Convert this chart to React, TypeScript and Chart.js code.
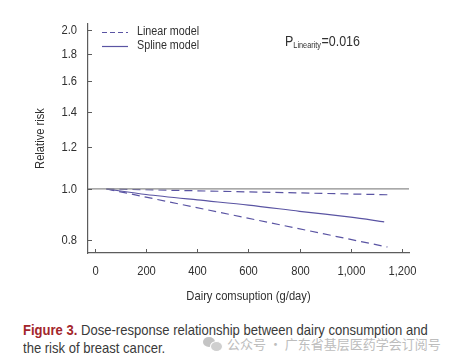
import React, { useEffect, useRef } from "react";
import { Chart, registerables } from "chart.js";

Chart.register(...registerables);

const FONT = "'Liberation Sans', Arial, sans-serif";
const SX = 0.86;

const xTicks = [0, 200, 400, 600, 800, 1000, 1200];
const yTicks = [0.8, 1.0, 1.2, 1.4, 1.6, 1.8, 2.0];

const refX = [-27, 1228];
const refY = [1.0, 1.0];

const linearX = [45, 1144];
const linearUpper = [1.0, 0.975];
const linearLower = [1.0, 0.776];

const splineX = [45, 200, 400, 600, 800, 1000, 1131];
const splineY = [1.0, 0.976, 0.953, 0.932, 0.907, 0.884, 0.866];

const legendLabels = ["Linear model", "Spline model"];
const xTitle = "Dairy comsuption (g/day)";
const yTitle = "Relative risk";
const pValueText = "0.016";

const LINE = "#5a54a3";
const AXIS = "#5c5c5c";
const TEXT = "#303030";

const pts = (xs: number[], ys: number[]) => xs.map((x, i) => ({ x, y: ys[i] }));

function txt(
  ctx: CanvasRenderingContext2D,
  s: string,
  x: number,
  y: number,
  size: number,
  align: CanvasTextAlign,
  baseline: CanvasTextBaseline,
  rot = 0
) {
  ctx.save();
  ctx.translate(x, y);
  if (rot) ctx.rotate(rot);
  ctx.scale(SX, 1);
  ctx.font = `${size}px ${FONT}`;
  ctx.textAlign = align;
  ctx.textBaseline = baseline;
  ctx.fillText(s, 0, 0);
  const w = ctx.measureText(s).width * SX;
  ctx.restore();
  return w;
}

const overlay = {
  id: "overlay",
  afterDraw(chart: any) {
    const ctx: CanvasRenderingContext2D = chart.ctx;
    const xs = chart.scales.x;
    const ys = chart.scales.y;
    const { left, right, top, bottom } = chart.chartArea;
    ctx.save();
    ctx.strokeStyle = AXIS;
    ctx.lineWidth = 1;
    ctx.fillStyle = TEXT;
    xTicks.forEach((v) => {
      const px = Math.round(xs.getPixelForValue(v)) + 0.5;
      ctx.beginPath();
      ctx.moveTo(px, bottom);
      ctx.lineTo(px, bottom - 4);
      ctx.stroke();
      txt(ctx, v.toLocaleString("en-US"), px, bottom + 18, 13, "center", "middle");
    });
    yTicks.forEach((v) => {
      const py = Math.round(ys.getPixelForValue(v)) + 0.5;
      ctx.beginPath();
      ctx.moveTo(left, py);
      ctx.lineTo(left + 4, py);
      ctx.stroke();
      txt(ctx, v.toFixed(1), left - 11, py, 13, "right", "middle");
    });

    // axis titles
    txt(ctx, xTitle, (left + right) / 2, bottom + 43, 13, "center", "middle");
    txt(ctx, yTitle, left - 48, (top + bottom) / 2, 13, "center", "middle", -Math.PI / 2);

    // legend
    const lx = left + 14;
    ctx.strokeStyle = LINE;
    ctx.lineWidth = 1.2;
    ctx.setLineDash([5, 3]);
    ctx.beginPath();
    ctx.moveTo(lx, 32.5);
    ctx.lineTo(lx + 26, 32.5);
    ctx.stroke();
    ctx.setLineDash([]);
    ctx.beginPath();
    ctx.moveTo(lx, 46.5);
    ctx.lineTo(lx + 26, 46.5);
    ctx.stroke();
    txt(ctx, legendLabels[0], lx + 35, 32, 12.5, "left", "middle");
    txt(ctx, legendLabels[1], lx + 35, 46, 12.5, "left", "middle");

    // P annotation
    let px = 285;
    const base = 46;
    px += txt(ctx, "P", px, base, 14.5, "left", "alphabetic");
    px += txt(ctx, "Linearity", px, base + 2, 8.5, "left", "alphabetic") + 0.5;
    txt(ctx, "=" + pValueText, px, base, 14.5, "left", "alphabetic");
    ctx.restore();
  },
};

export default function App() {
  const ref = useRef<HTMLCanvasElement | null>(null);
  useEffect(() => {
    if (!ref.current) return;
    const chart = new Chart(ref.current, {
      type: "line",
      data: {
        datasets: [
          {
            label: "ref",
            data: pts(refX, refY),
            borderColor: "#8c8c8c",
            borderWidth: 1.2,
            pointRadius: 0,
          },
          {
            label: legendLabels[0],
            data: pts(linearX, linearUpper),
            borderColor: LINE,
            borderWidth: 1.2,
            borderDash: [8, 5],
            pointRadius: 0,
          },
          {
            label: legendLabels[0] + " lower",
            data: pts(linearX, linearLower),
            borderColor: LINE,
            borderWidth: 1.2,
            borderDash: [8, 5],
            pointRadius: 0,
          },
          {
            label: legendLabels[1],
            data: pts(splineX, splineY),
            borderColor: LINE,
            borderWidth: 1.2,
            pointRadius: 0,
            tension: 0.3,
          },
        ],
      },
      options: {
        responsive: false,
        animation: false,
        layout: { padding: { top: 24, right: 44, left: 0, bottom: 0 } },
        plugins: { legend: { display: false }, tooltip: { enabled: false } },
        scales: {
          x: {
            type: "linear",
            min: -27,
            max: 1228,
            afterFit: (s: any) => {
              s.height = 57;
            },
            afterBuildTicks: (s: any) => {
              s.ticks = xTicks.map((v) => ({ value: v }));
            },
            grid: { display: true, drawOnChartArea: false, drawTicks: false },
            border: { display: true, color: AXIS, width: 1.2 },
            ticks: { display: false },
          },
          y: {
            type: "logarithmic",
            min: 0.756,
            max: 2.055,
            afterFit: (s: any) => {
              s.width = 88;
            },
            afterBuildTicks: (s: any) => {
              s.ticks = yTicks.map((v) => ({ value: v }));
            },
            grid: { display: true, drawOnChartArea: false, drawTicks: false },
            border: { display: true, color: AXIS, width: 1.2 },
            ticks: { display: false },
          },
        },
      },
      plugins: [overlay],
    });
    return () => chart.destroy();
  }, []);

  return (
    <div style={{ position: "absolute", left: 0, top: 0, width: 453, height: 363, background: "#fff", overflow: "hidden" }}>
      <canvas ref={ref} width={453} height={310} style={{ position: "absolute", left: 0, top: 0, width: 453, height: 310 }} />
      <div
        style={{
          position: "absolute",
          left: 23,
          top: 321,
          fontFamily: FONT,
          fontSize: 15,
          lineHeight: "18px",
          color: "#3a3a3a",
          whiteSpace: "nowrap",
          transform: "scaleX(0.87)",
          transformOrigin: "0 0",
        }}
      >
        <div>
          <span style={{ color: "#a3262b", fontWeight: "bold" }}>Figure 3.</span> Dose-response relationship between dairy consumption and
        </div>
        <div>the risk of breast cancer.</div>
      </div>
      <div
        style={{
          position: "absolute",
          left: 203,
          top: 334,
          display: "flex",
          alignItems: "center",
          fontFamily: "'Noto Sans CJK SC', sans-serif",
          fontSize: 13,
          color: "#bdbdbd",
          whiteSpace: "nowrap",
        }}
      >
        <span style={{ position: "relative", display: "inline-block", width: 20, height: 15, marginRight: 4 }}>
          <span style={{ position: "absolute", left: 0, top: 1, width: 12, height: 10, borderRadius: "50%", background: "#c4c4c4" }} />
          <span style={{ position: "absolute", left: 7, top: 5, width: 11, height: 9, borderRadius: "50%", background: "#cfcfcf", border: "1px solid #fff" }} />
        </span>
        <span>公众号 · 广东省基层医药学会订阅号</span>
      </div>
    </div>
  );
}
